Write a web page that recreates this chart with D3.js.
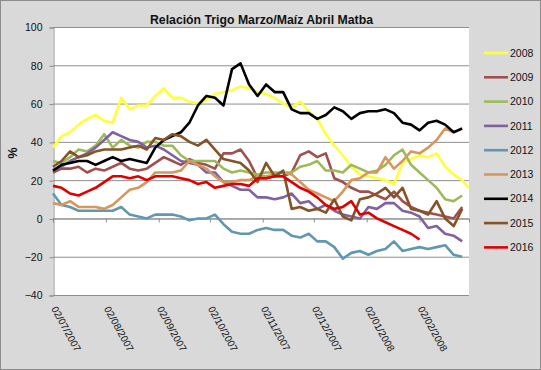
<!DOCTYPE html>
<html>
<head>
<meta charset="utf-8">
<script src="https://cdn.jsdelivr.net/npm/d3@7"></script>
<style>
body { margin: 0; background: #d9d9d9; }
svg { display: block; font-family: "Liberation Sans", Arial, sans-serif; }
</style>
</head>
<body>
<svg id="chart"></svg>
<script>
//Sampling dates (every 5 days) shared by all the series.
var dates = [
  "2007-07-02","2007-07-07","2007-07-12","2007-07-17","2007-07-22","2007-07-27",
  "2007-08-01","2007-08-06","2007-08-11","2007-08-16","2007-08-21","2007-08-26","2007-08-31",
  "2007-09-05","2007-09-10","2007-09-15","2007-09-20","2007-09-25","2007-09-30",
  "2007-10-05","2007-10-10","2007-10-15","2007-10-20","2007-10-25","2007-10-30",
  "2007-11-04","2007-11-09","2007-11-14","2007-11-19","2007-11-24","2007-11-29",
  "2007-12-04","2007-12-09","2007-12-14","2007-12-19","2007-12-24","2007-12-29",
  "2008-01-03","2008-01-08","2008-01-13","2008-01-18","2008-01-23","2008-01-28",
  "2008-02-02","2008-02-07","2008-02-12","2008-02-17","2008-02-22","2008-02-27",
  "2008-03-02"
];

//Tick labels of the horizontal axis.
var tickDates = ["2007-07-02","2007-08-02","2007-09-02","2007-10-02","2007-11-02",
  "2007-12-02","2008-01-02","2008-02-02"];
var yTicks = [-40, -20, 0, 20, 40, 60, 80, 100];

//One array of values (%) per campaign, null where the series has ended.
var s2008 = [37,43,45,49,52,54,51,50,63,57,59,59,64,68,63,63,61,60,62,65,66,67,69,68,66,
  65,63,60,58,61,56,52,44,38,33,27,23,22,21,20,18,29,31,33,32,34,27,23,20,16];
var s2009 = [24,26,26,27,24,26,25,27,29,26,25,26,29,32,30,28,31,29,28,26,34,34,36,30,21,
  21,22,22,24,33,35,32,34,21,19,16,14,14,12,10,14,9,6,4,3,2,1,0,6,null];
var s2010 = [30,29,32,36,35,38,44,37,41,38,37,40,40,38,38,33,30,30,30,30,26,24,25,24,23,
  24,24,24,24,27,28,30,25,25,24,28,26,24,25,28,33,36,28,24,20,16,10,9,12,null];
var s2011 = [25,27,30,32,34,37,41,45,43,41,40,37,38,36,33,30,29,28,24,24,19,17,15,15,11,
  11,10,11,13,8,9,5,7,4,2,1,0,6,5,8,8,4,3,1,-5,-4,-8,-9,-12,null];
var s2012 = [13,7,6,4,4,4,4,4,6,2,1,0,2,2,2,1,-1,0,0,2,-3,-7,-8,-8,-6,
  -5,-6,-6,-9,-10,-8,-12,-12,-15,-21,-18,-17,-19,-17,-16,-12,-17,-16,-15,-16,-15,-14,-19,-20,null];
var s2013 = [8,7,9,6,6,6,5,7,11,15,16,19,24,24,24,25,30,28,26,22,19,19,20,20,22,
  22,23,24,23,19,15,13,11,9,14,20,21,24,24,32,26,30,35,34,37,41,47,45,null,null];
var s2014 = [25,28,29,30,30,28,30,32,30,31,30,29,37,41,43,45,50,59,64,63,59,78,81,70,64,
  70,66,66,57,55,55,52,54,58,56,52,55,56,56,57,55,50,49,46,50,51,49,45,47,null];
var s2015 = [27,30,35,32,33,35,36,36,36,37,38,36,42,41,44,43,40,38,41,36,31,30,29,25,19,
  29,22,25,5,6,4,5,3,10,1,-1,10,11,13,16,11,16,5,4,2,9,0,-4,5,null];
var s2016 = [17,16,13,12,14,16,19,22,22,21,22,20,22,22,22,21,20,18,19,16,17,18,18,17,21,
  21,22,22,19,16,14,11,7,5,6,9,2,3,0,-2,-4,-6,-8,-11,null,null,null,null,null,null];

var years = ["2008","2009","2010","2011","2012","2013","2014","2015","2016"];
var seriesValues = [s2008, s2009, s2010, s2011, s2012, s2013, s2014, s2015, s2016];
var colors = ["#FFFF3A","#A0504E","#9BBB59","#7F62A0","#6197B0","#D7965C","#000000","#855326","#E00000"];

var W = 541, H = 370;
var plot = {left: 53, right: 469, top: 27, bottom: 295};

var svg = d3.select("#chart").attr("width", W).attr("height", H);

//Outer chart area.
svg.append("rect")
  .attr("x", 0.5).attr("y", 0.5)
  .attr("width", W - 1).attr("height", H - 1)
  .attr("fill", "#d9d9d9")
  .attr("stroke", "#8c8c8c");

//Plot area.
svg.append("rect")
  .attr("x", plot.left).attr("y", plot.top)
  .attr("width", plot.right - plot.left).attr("height", plot.bottom - plot.top)
  .attr("fill", "#ffffff");

var parse = d3.timeParse("%Y-%m-%d");
var x = d3.scaleTime()
  .domain([parse("2007-07-02"), parse("2008-03-02")])
  .range([plot.left, plot.right]);
var y = d3.scaleLinear().domain([-40, 100]).range([plot.bottom, plot.top]);

//Gridlines.
svg.append("g")
  .selectAll("line")
  .data(yTicks)
  .enter().append("line")
    .attr("x1", plot.left).attr("x2", plot.right)
    .attr("y1", d => y(d) + 0.5).attr("y2", d => y(d) + 0.5)
    .attr("stroke", "#8e8e8e")
    .attr("stroke-width", 1);

//Vertical axis.
var yAxis = svg.append("g")
  .attr("transform", "translate(" + (plot.left + 0.5) + ",0.5)")
  .call(d3.axisLeft(y).tickValues(yTicks).tickSize(4).tickPadding(7));
yAxis.select(".domain").attr("stroke", "#8e8e8e");
yAxis.selectAll(".tick line").attr("stroke", "#8e8e8e");
yAxis.selectAll(".tick text")
  .attr("font-family", "Liberation Sans, Arial, sans-serif")
  .attr("font-size", 10.5)
  .attr("fill", "#111");

//Horizontal axis line at zero, with month ticks pointing down.
var xAxis = svg.append("g")
  .attr("transform", "translate(0," + (Math.round(y(0)) + 0.5) + ")")
  .call(d3.axisBottom(x).tickValues(tickDates.map(parse)).tickSize(4).tickFormat(""));
xAxis.select(".domain").attr("stroke", "#8e8e8e");
xAxis.selectAll(".tick line").attr("stroke", "#8e8e8e");

//Tick labels sit below the plot area, rotated.
var fmt = d3.timeFormat("%d/%m/%Y");
svg.append("g")
  .selectAll("text")
  .data(tickDates.map(parse))
  .enter().append("text")
    .attr("transform", d => "translate(" + (x(d) + 1) + ",307) rotate(61)")
    .attr("dy", "0.35em")
    .attr("font-size", 10)
    .attr("fill", "#111")
    .text(d => fmt(d));

//Axis title.
svg.append("text")
  .attr("transform", "translate(17,153) rotate(-90)")
  .attr("text-anchor", "middle")
  .attr("font-size", 12.5)
  .attr("font-weight", "bold")
  .attr("fill", "#111")
  .text("%");

//Chart title.
svg.append("text")
  .attr("x", 261.5).attr("y", 23.5)
  .attr("text-anchor", "middle")
  .attr("font-size", 13.5)
  .attr("font-weight", "bold")
  .attr("fill", "#111")
  .attr("textLength", 223)
  .attr("lengthAdjust", "spacingAndGlyphs")
  .text("Relación Trigo Marzo/Maíz Abril Matba");

//Series lines.
var line = d3.line()
  .defined(d => d.v !== null)
  .x(d => x(d.date))
  .y(d => y(d.v));

var series = years.map((yr, i) => ({
  year: yr,
  color: colors[i],
  points: dates.map((dt, j) => ({date: parse(dt), v: seriesValues[i][j]}))
}));

svg.append("g")
  .selectAll("path")
  .data(series)
  .enter().append("path")
    .attr("d", s => line(s.points))
    .attr("fill", "none")
    .attr("stroke", s => s.color)
    .attr("stroke-width", 2.6)
    .attr("stroke-linejoin", "round");

//Legend.
var legend = svg.append("g")
  .selectAll("g")
  .data(series)
  .enter().append("g")
    .attr("transform", (s, i) => "translate(484," + (53 + i * 24.3) + ")");
legend.append("line")
  .attr("x1", 0).attr("x2", 24)
  .attr("stroke", s => s.color)
  .attr("stroke-width", 2.6);
legend.append("text")
  .attr("x", 26)
  .attr("dy", "0.35em")
  .attr("font-size", 10.5)
  .attr("fill", "#111")
  .text(s => s.year);
</script>
</body>
</html>
